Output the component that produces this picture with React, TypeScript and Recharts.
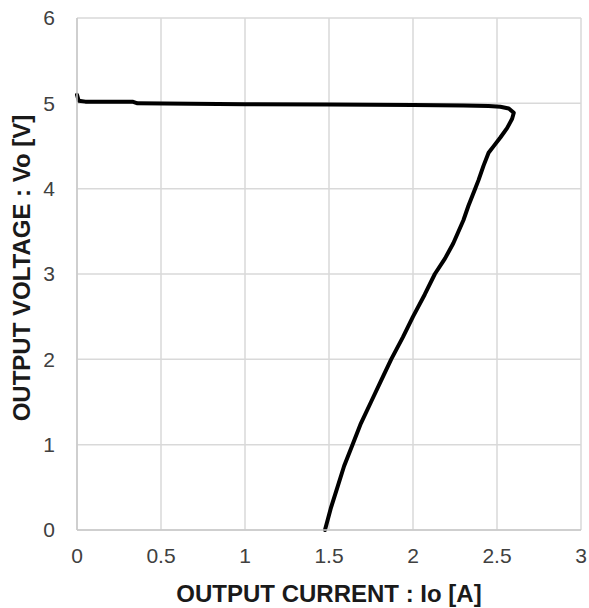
import React from "react";
import {
  LineChart,
  Line,
  XAxis,
  YAxis,
  CartesianGrid,
  Label,
} from "recharts";

// output current Io [A] in drawing order
const current = [
  0, 0.01, 0.05, 0.33, 0.36, 1.0, 1.5, 2.0, 2.3, 2.45, 2.52, 2.57, 2.6, 2.59,
  2.56, 2.52, 2.485, 2.45, 2.42, 2.39, 2.37, 2.33, 2.3, 2.24, 2.19, 2.13, 2.07,
  2.0, 1.94, 1.87, 1.81, 1.75, 1.69, 1.64, 1.59, 1.55, 1.51, 1.476,
];

// output voltage Vo [V]
const voltage = [
  5.1, 5.03, 5.02, 5.02, 5.0, 4.99, 4.985, 4.98, 4.975, 4.97, 4.96, 4.94, 4.89,
  4.82, 4.71, 4.6, 4.51, 4.42, 4.27, 4.1, 4.0, 3.8, 3.63, 3.36, 3.18, 3.0, 2.76,
  2.5, 2.26, 2.0, 1.75, 1.5, 1.25, 1.0, 0.75, 0.5, 0.25, 0.0,
];

const xTicks = [0, 0.5, 1, 1.5, 2, 2.5, 3];
const yTicks = [0, 1, 2, 3, 4, 5, 6];

const data = current.map((io, i) => ({ io, vo: voltage[i] }));

const font = "'Liberation Sans', Arial, sans-serif";
const tickStyle = { fontSize: 21, fill: "#404040", fontFamily: font };
const titleStyle = {
  fontSize: 24,
  fontWeight: 700,
  fill: "#1a1a1a",
  fontFamily: font,
};

const YTitle = (props: any) => {
  const vb = props.viewBox || { x: 0, y: 0, width: 0, height: 0 };
  const cx = vb.x + 21;
  const cy = vb.y + vb.height / 2 - 6;
  return (
    <text
      transform={`translate(${cx},${cy}) rotate(-90)`}
      textAnchor="middle"
      dominantBaseline="central"
      style={titleStyle}
    >
      OUTPUT VOLTAGE : Vo [V]
    </text>
  );
};

export default function App() {
  return (
    <div style={{ position: "absolute", left: 0, top: 0, background: "#fff" }}>
      <LineChart
        width={589}
        height={608}
        data={data}
        margin={{ top: 18, right: 8, bottom: 0, left: 0 }}
      >
        <CartesianGrid stroke="#d9d9d9" strokeWidth={1.5} />
        <XAxis
          dataKey="io"
          type="number"
          domain={[0, 3]}
          ticks={xTicks}
          height={78}
          tickLine={false}
          tickSize={0}
          tickMargin={18}
          axisLine={{ stroke: "#c8c8c8", strokeWidth: 1.5 }}
          tick={tickStyle}
          interval={0}
        >
          <Label
            value="OUTPUT CURRENT : Io [A]"
            position="insideBottom"
            offset={6}
            style={titleStyle}
          />
        </XAxis>
        <YAxis
          type="number"
          domain={[0, 6]}
          ticks={yTicks}
          width={77}
          tickLine={false}
          tickSize={0}
          tickMargin={22}
          axisLine={{ stroke: "#c8c8c8", strokeWidth: 1.5 }}
          tick={tickStyle}
          interval={0}
        >
          <Label content={YTitle} />
        </YAxis>
        <Line
          type="linear"
          dataKey="vo"
          stroke="#000"
          strokeWidth={4}
          dot={false}
          strokeLinejoin="round"
          strokeLinecap="round"
          isAnimationActive={false}
        />
      </LineChart>
    </div>
  );
}
